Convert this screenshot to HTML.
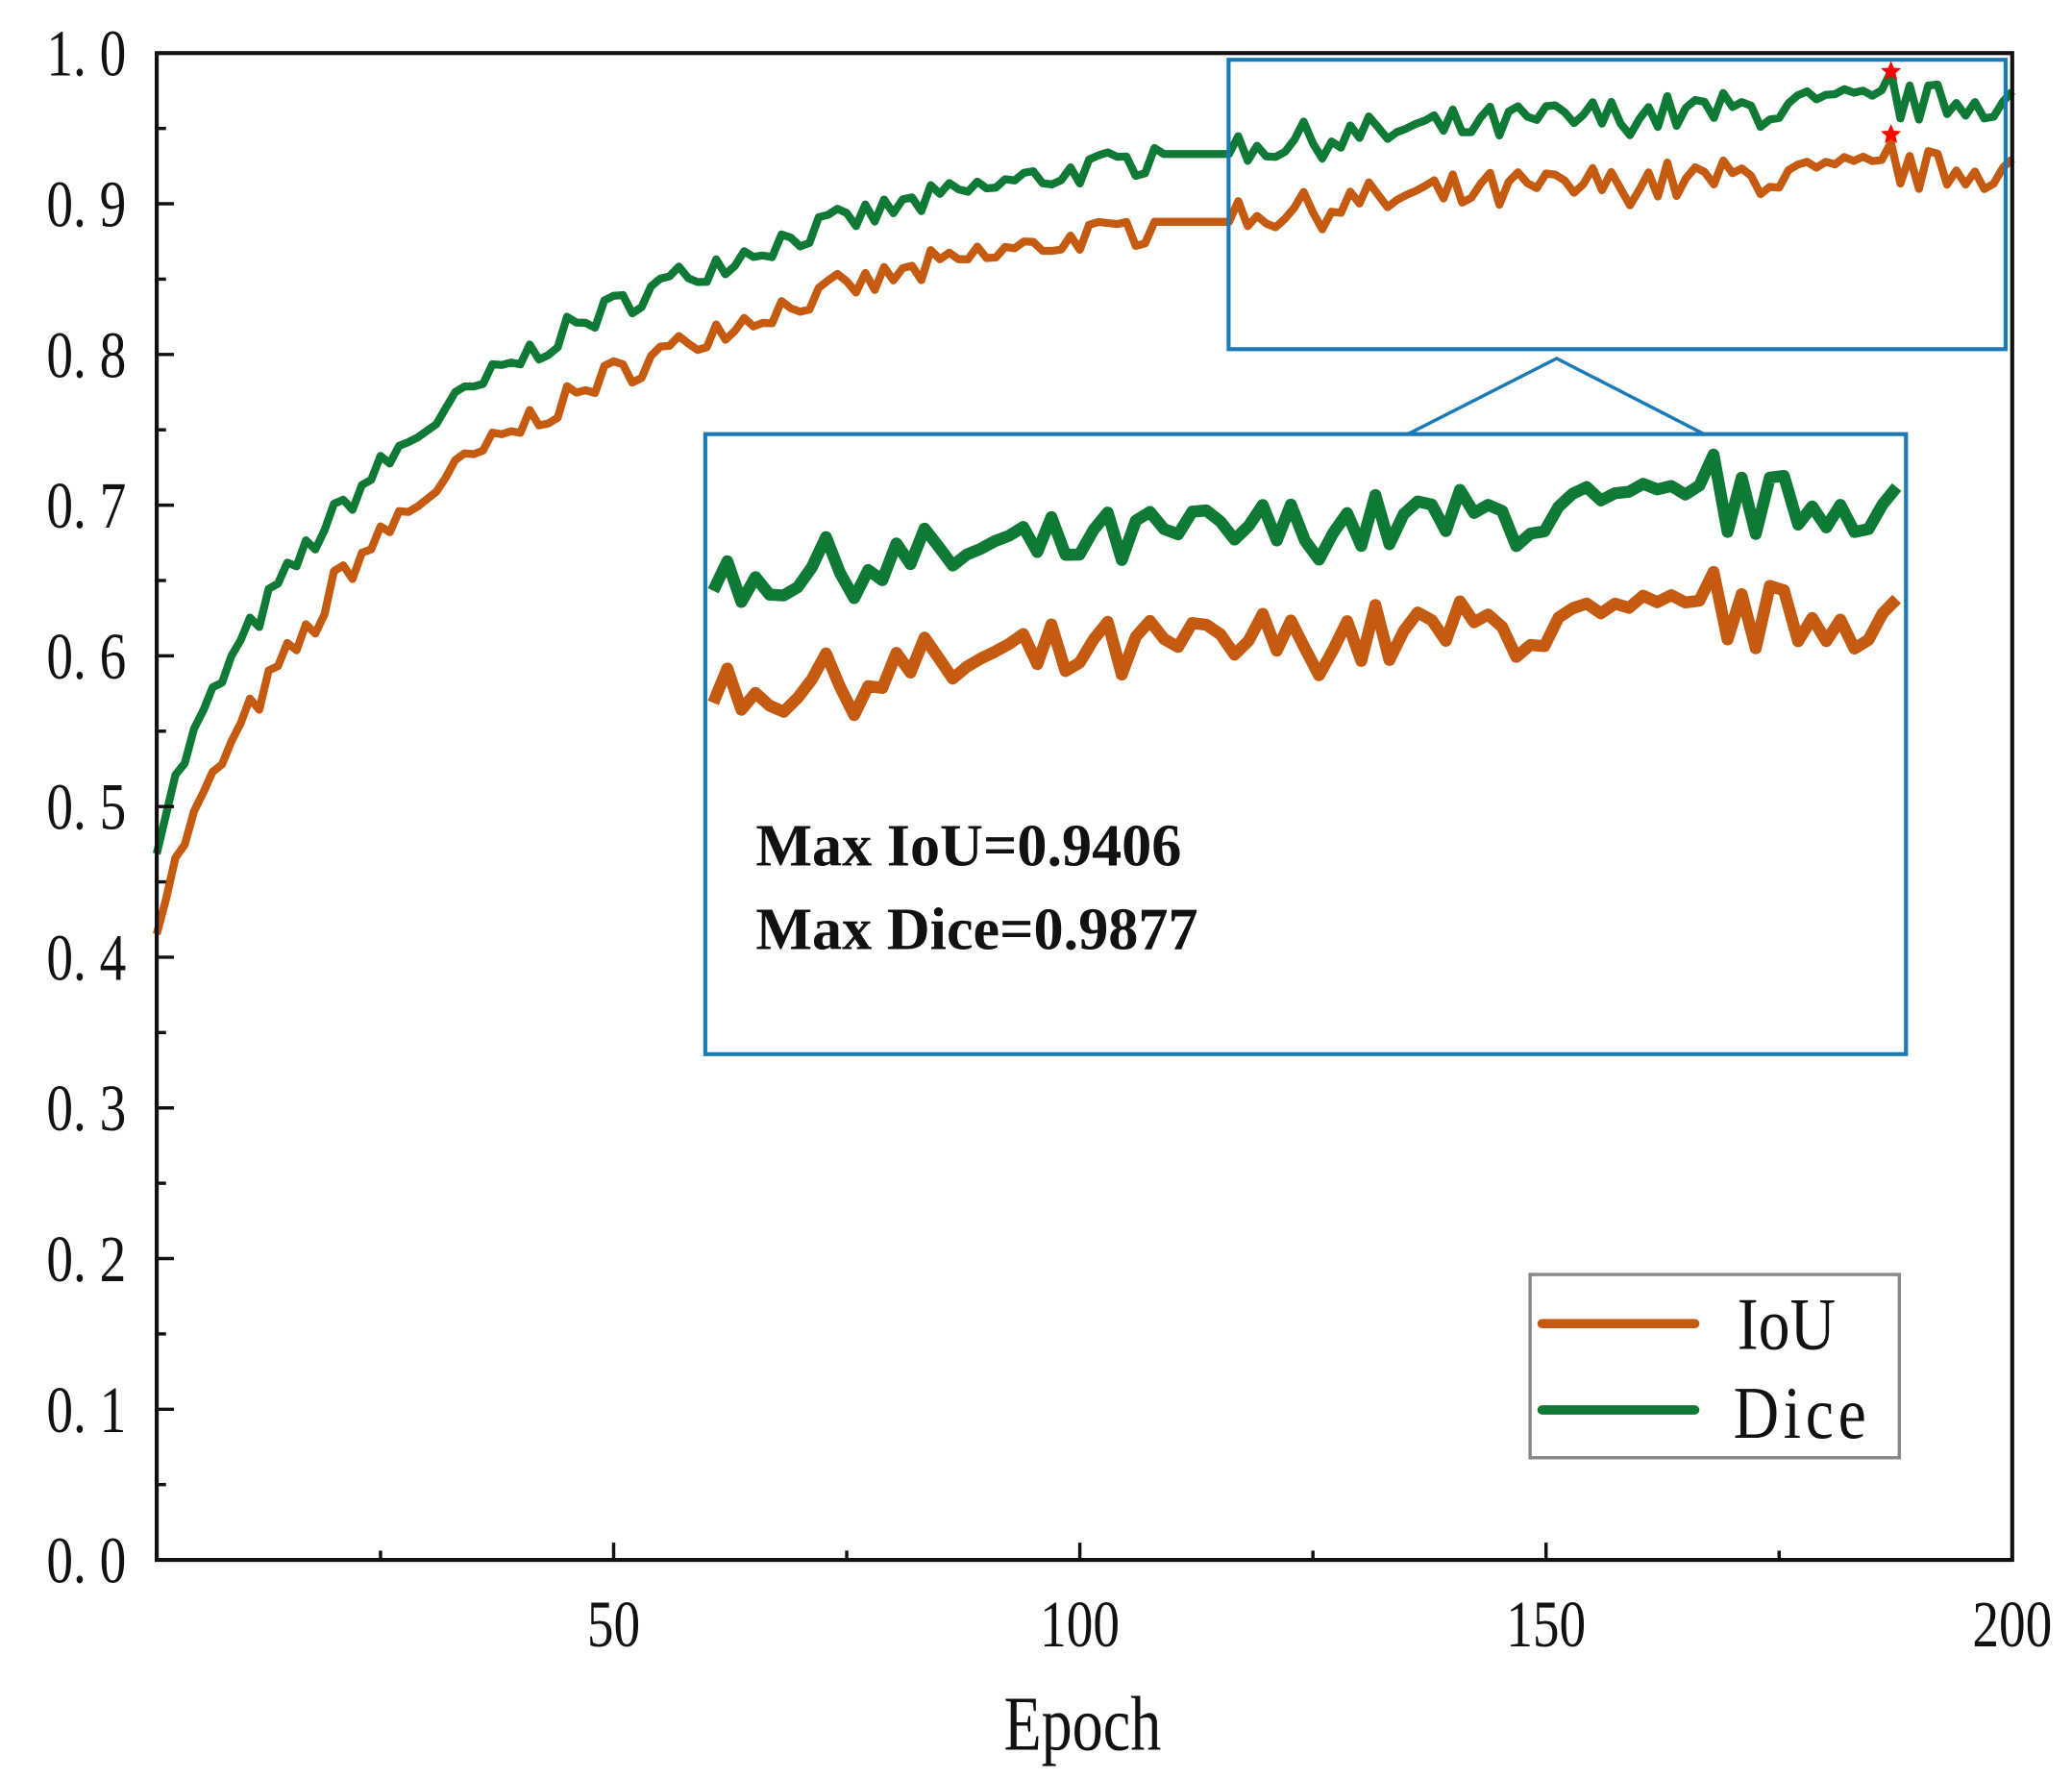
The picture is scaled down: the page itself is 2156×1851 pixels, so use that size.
<!DOCTYPE html>
<html><head><meta charset="utf-8"><style>
html,body{margin:0;padding:0;background:#fff;}
svg{display:block;}
text{font-family:"Liberation Serif","Noto Serif CJK SC",serif;fill:#111;}
</style></head><body>
<svg id="s" width="2156" height="1851" viewBox="0 0 1560 1340" preserveAspectRatio="none" xmlns="http://www.w3.org/2000/svg">
<g id="g"></g>
</svg>
<script>
var NS="http://www.w3.org/2000/svg",g=document.getElementById('g');
function el(t,a,txt){var e=document.createElementNS(NS,t);for(var k in a)e.setAttribute(k,a[k]);if(txt!=null)e.textContent=txt;g.appendChild(e);return e;}
var L=118,R=1515,T=40,B=1175;
function X(e){return 111+7.02*e;}
function Y(v){return B-(B-T)*v;}
var seed=7;function rnd(){seed=(seed*16807)%2147483647;return seed/2147483647;}
var dice=[],iou=[];
for(var e=1;e<=200;e++){
  var base=0.45+0.53*(1-Math.exp(-Math.pow(e,0.8)/18));
  var amp=e>116?0.026:0.02;
  var n=(rnd()-0.5)*amp;
  if(e>=108&&e<=116){base=0.933;n=(e==108?0.004:0);}
  var d=base+n; if(e==187)d=0.9877;
  dice.push([e,d]);
  var i=d-0.045-(e<20?0.01:0)+(rnd()-0.5)*0.004; if(e==187)i=0.9406;
  if(e>=108&&e<=116)i=0.888;
  iou.push([e,i]);
}
function path(data,fx,fy){var s='';data.forEach(function(p,k){s+=(k?'L':'M')+fx(p[0]).toFixed(1)+' '+fy(p[1]).toFixed(1);});return s;}
el('path',{d:path(iou,X,Y),fill:'none',stroke:'#c55a11','stroke-width':6,'stroke-linejoin':'round'});
el('path',{d:path(dice,X,Y),fill:'none',stroke:'#0e7a36','stroke-width':6,'stroke-linejoin':'round'});
function star(cx,cy,r){var s='';for(var k=0;k<10;k++){var a=-Math.PI/2+k*Math.PI/5,rr=k%2?r*0.45:r;s+=(k?'L':'M')+(cx+rr*Math.cos(a)).toFixed(1)+' '+(cy+rr*Math.sin(a)).toFixed(1);}el('path',{d:s+'Z',fill:'#f00'});}
star(X(187),Y(0.9877),8);star(X(187),Y(0.9406)-6,8);
var blue='#1a7ab8';
el('rect',{x:925,y:45,width:585,height:218,fill:'none',stroke:blue,'stroke-width':3});
el('polyline',{points:'1060,327 1172,270 1283,327',fill:'none',stroke:blue,'stroke-width':2.5});
el('rect',{x:531,y:327,width:904,height:467,fill:'#fff',stroke:blue,'stroke-width':3});
var d116=dice[115][1];
function IX(e){return 537+(e-116)*891/84;}
function IY(v){return 445-(v-d116)*1875;}
el('path',{d:path(iou.slice(115),IX,IY),fill:'none',stroke:'#c55a11','stroke-width':9,'stroke-linejoin':'round'});
el('path',{d:path(dice.slice(115),IX,IY),fill:'none',stroke:'#0e7a36','stroke-width':9,'stroke-linejoin':'round'});
el('text',{x:569,y:652,'font-size':45,'font-weight':'bold'},'Max IoU=0.9406');
el('text',{x:569,y:715,'font-size':45,'font-weight':'bold'},'Max Dice=0.9877');
el('rect',{x:L,y:T,width:R-L,height:B-T,fill:'none',stroke:'#111','stroke-width':3});
for(var k=0;k<=20;k++){var y=B-(B-T)*k/20;var len=k%2?7:13;el('line',{x1:L,y1:y,x2:L+len,y2:y,stroke:'#111','stroke-width':2.5});
 if(k%2==0)el('text',{x:95,y:y+17,'font-size':50,'text-anchor':'end',fill:'#222',transform:'translate(95 0) scale(0.8 1) translate(-95 0)'},(k/20).toFixed(1).replace('.','. '));}
for(var e=25;e<=200;e+=25){var x=X(e);var len=e%50?7:13;el('line',{x1:x,y1:B,x2:x,y2:B-len,stroke:'#111','stroke-width':2.5});
 if(e%50==0)el('text',{x:x,y:1240,'font-size':50,'text-anchor':'middle',transform:'translate('+x+' 0) scale(0.8 1) translate('+(-x)+' 0)'},String(e));}
el('text',{x:815,y:1318,'font-size':58,'text-anchor':'middle',transform:'translate(815 0) scale(0.8 1) translate(-815 0)'},'Epoch');
el('rect',{x:1152,y:960,width:278,height:138,fill:'#fff',stroke:'#888','stroke-width':2.5});
el('line',{x1:1161,y1:997,x2:1276,y2:997,stroke:'#c55a11','stroke-width':7,'stroke-linecap':'round'});
el('line',{x1:1161,y1:1062,x2:1276,y2:1062,stroke:'#0e7a36','stroke-width':7,'stroke-linecap':'round'});
el('text',{x:1308,y:1016,'font-size':56,transform:'translate(1308 0) scale(0.85 1) translate(-1308 0)'},'IoU');
el('text',{x:1305,y:1083,'font-size':56,'letter-spacing':'4',transform:'translate(1305 0) scale(0.85 1) translate(-1305 0)'},'Dice');
</script>
</body></html>
